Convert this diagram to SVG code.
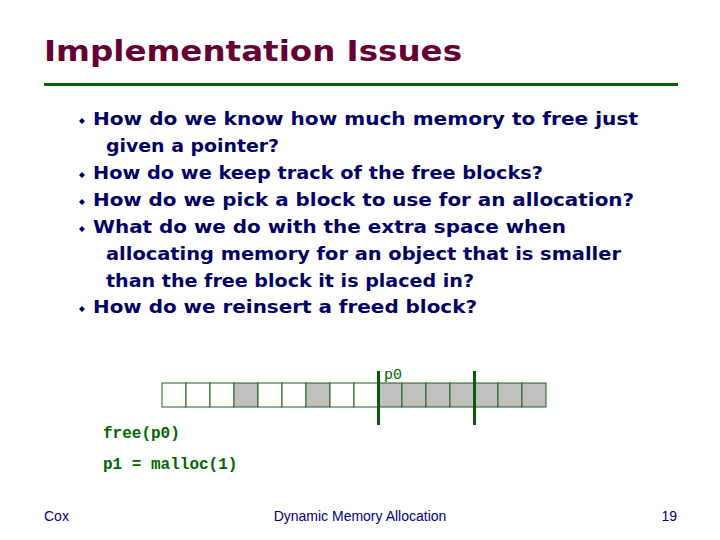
<svg xmlns="http://www.w3.org/2000/svg" width="720" height="540" viewBox="0 0 720 540">
<style>
.t{font-family:"DejaVu Sans",Verdana,sans-serif;font-weight:bold;font-size:18px;fill:#000066}
.b{fill:#000066}
.m{font-family:"Liberation Mono","Courier New",monospace;font-weight:bold;font-size:16px;fill:#006600}
.c{fill:#fff;stroke:#1f5f1f;stroke-width:1}
.g{fill:#c0c0c0;stroke:#1f5f1f;stroke-width:1}
.f{font-family:"Liberation Sans",Arial,sans-serif;font-size:14px;fill:#000080}
</style>
<rect width="720" height="540" fill="#fff"/>
<g id="title">
<text x="44" y="61" font-family="DejaVu Sans,Verdana,sans-serif" font-weight="bold" font-size="28" fill="#660033" textLength="418" lengthAdjust="spacingAndGlyphs">Implementation Issues</text>
<rect x="44" y="83" width="634" height="3" fill="#006600"/>
</g>
<g id="bullets">
<path class="b" d="M79 121l3 -3l3 3l-3 3z M79 175l3 -3l3 3l-3 3z M79 202l3 -3l3 3l-3 3z M79 229l3 -3l3 3l-3 3z M79 309l3 -3l3 3l-3 3z"/>
<text class="t" x="93" y="125" textLength="545" lengthAdjust="spacingAndGlyphs">How do we know how much memory to free just</text>
<text class="t" x="106" y="152" textLength="173" lengthAdjust="spacingAndGlyphs">given a pointer?</text>
<text class="t" x="93" y="179" textLength="450" lengthAdjust="spacingAndGlyphs">How do we keep track of the free blocks?</text>
<text class="t" x="93" y="206" textLength="541" lengthAdjust="spacingAndGlyphs">How do we pick a block to use for an allocation?</text>
<text class="t" x="93" y="233" textLength="473" lengthAdjust="spacingAndGlyphs">What do we do with the extra space when</text>
<text class="t" x="106" y="260" textLength="515" lengthAdjust="spacingAndGlyphs">allocating memory for an object that is smaller</text>
<text class="t" x="106" y="287" textLength="368" lengthAdjust="spacingAndGlyphs">than the free block it is placed in?</text>
<text class="t" x="93" y="313" textLength="384" lengthAdjust="spacingAndGlyphs">How do we reinsert a freed block?</text>
</g>
<g id="heap">
<rect class="c" x="162" y="383" width="24" height="24"/>
<rect class="c" x="186" y="383" width="24" height="24"/>
<rect class="c" x="210" y="383" width="24" height="24"/>
<rect class="g" x="234" y="383" width="24" height="24"/>
<rect class="c" x="258" y="383" width="24" height="24"/>
<rect class="c" x="282" y="383" width="24" height="24"/>
<rect class="g" x="306" y="383" width="24" height="24"/>
<rect class="c" x="330" y="383" width="24" height="24"/>
<rect class="c" x="354" y="383" width="24" height="24"/>
<rect class="g" x="378" y="383" width="24" height="24"/>
<rect class="g" x="402" y="383" width="24" height="24"/>
<rect class="g" x="426" y="383" width="24" height="24"/>
<rect class="g" x="450" y="383" width="24" height="24"/>
<rect class="g" x="474" y="383" width="24" height="24"/>
<rect class="g" x="498" y="383" width="24" height="24"/>
<rect class="g" x="522" y="383" width="24" height="24"/>
</g>
<g id="connectors">
<rect x="377" y="371" width="3" height="54" fill="#0a5a0a"/>
<rect x="473" y="371" width="3" height="54" fill="#0a5a0a"/>
</g>
<g id="labels">
<text x="384" y="379" font-family="Liberation Mono,monospace" font-size="15" fill="#006600">p0</text>
<text class="m" x="103" y="438">free(p0)</text>
<text class="m" x="103" y="469">p1 = malloc(1)</text>
</g>
<g id="footer">
<text class="f" x="44" y="521">Cox</text>
<text class="f" x="360" y="521" text-anchor="middle">Dynamic Memory Allocation</text>
<text class="f" x="677" y="521" text-anchor="end">19</text>
</g>
</svg>
